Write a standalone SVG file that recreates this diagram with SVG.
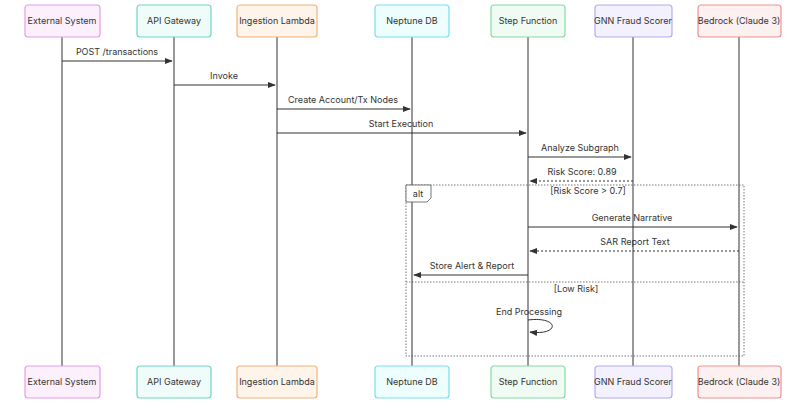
<svg xmlns="http://www.w3.org/2000/svg" width="806" height="419" viewBox="0 0 806 419">
<style>
text{font-family:Inter,"Noto Sans",sans-serif;font-size:9px;fill:#333;text-anchor:middle}
.life{stroke:#333;stroke-width:1}
.msg{stroke:#333;stroke-width:1;fill:none}
.dash{stroke-dasharray:2,2}
.box{stroke-width:1.2;rx:3}
</style>
<defs>
<marker id="a" viewBox="0 0 10 10" refX="9" refY="5" markerWidth="8" markerHeight="8" orient="auto"><path d="M0,1L10,5L0,9z" fill="#333"/></marker>
</defs>
<rect width="806" height="419" fill="#fff"/>
<g id="lifelines">
<line class="life" x1="62" y1="37" x2="62" y2="366"/>
<line class="life" x1="174" y1="37" x2="174" y2="366"/>
<line class="life" x1="277" y1="37" x2="277" y2="366"/>
<line class="life" x1="412" y1="37" x2="412" y2="366"/>
<line class="life" x1="528" y1="37" x2="528" y2="366"/>
<line class="life" x1="633" y1="37" x2="633" y2="366"/>
<line class="life" x1="739" y1="37" x2="739" y2="366"/>
</g>
<g id="alt">
<rect x="406" y="185" width="338" height="171" fill="none" stroke="#555" stroke-width="0.8" stroke-dasharray="1.5,1.5"/>
<path d="M406,185H431V198L427,202H406z" fill="#fff" stroke="#555" stroke-width="0.8"/>
<text x="418" y="197">alt</text>
<text x="588" y="194">[Risk Score &gt; 0.7]</text>
<line x1="406" y1="282" x2="744" y2="282" stroke="#555" stroke-width="0.8" stroke-dasharray="1.5,1.5"/>
<text x="576" y="292">[Low Risk]</text>
</g>
<g id="connectors">
<line class="msg" x1="62" y1="61" x2="172" y2="61" marker-end="url(#a)"/><text x="117" y="55">POST /transactions</text>
<line class="msg" x1="174" y1="85" x2="275" y2="85" marker-end="url(#a)"/><text x="224" y="79">Invoke</text>
<line class="msg" x1="277" y1="109" x2="410" y2="109" marker-end="url(#a)"/><text x="343" y="103">Create Account/Tx Nodes</text>
<line class="msg" x1="277" y1="133" x2="526" y2="133" marker-end="url(#a)"/><text x="401" y="127">Start Execution</text>
<line class="msg" x1="528" y1="157" x2="631" y2="157" marker-end="url(#a)"/><text x="580" y="151">Analyze Subgraph</text>
<line class="msg dash" x1="633" y1="181" x2="530" y2="181" marker-end="url(#a)"/><text x="582" y="175">Risk Score: 0.89</text>
<line class="msg" x1="528" y1="227" x2="737" y2="227" marker-end="url(#a)"/><text x="632" y="221">Generate Narrative</text>
<line class="msg dash" x1="739" y1="251" x2="530" y2="251" marker-end="url(#a)"/><text x="635" y="245">SAR Report Text</text>
<line class="msg" x1="528" y1="275" x2="414" y2="275" marker-end="url(#a)"/><text x="472" y="269">Store Alert &amp; Report</text>
<path class="msg" d="M528,320C560,316 560,336 530,332" marker-end="url(#a)"/><text x="529" y="315">End Processing</text>
</g>
<g id="n-ext"><rect class="box" x="25" y="5" width="75" height="32" fill="#fdf0fd" stroke="#e39be8"/><text x="62" y="24">External System</text>
<rect class="box" x="25" y="366" width="75" height="32" fill="#fdf0fd" stroke="#e39be8"/><text x="62" y="385">External System</text></g>
<g id="n-api"><rect class="box" x="137" y="5" width="74" height="32" fill="#effcf9" stroke="#6fd6c4"/><text x="174" y="24">API Gateway</text>
<rect class="box" x="137" y="366" width="74" height="32" fill="#effcf9" stroke="#6fd6c4"/><text x="174" y="385">API Gateway</text></g>
<g id="n-ing"><rect class="box" x="237" y="5" width="80" height="32" fill="#fff4ea" stroke="#f2b27a"/><text x="277" y="24">Ingestion Lambda</text>
<rect class="box" x="237" y="366" width="80" height="32" fill="#fff4ea" stroke="#f2b27a"/><text x="277" y="385">Ingestion Lambda</text></g>
<g id="n-nep"><rect class="box" x="375" y="5" width="74" height="32" fill="#eefdfe" stroke="#78e0ea"/><text x="412" y="24">Neptune DB</text>
<rect class="box" x="375" y="366" width="74" height="32" fill="#eefdfe" stroke="#78e0ea"/><text x="412" y="385">Neptune DB</text></g>
<g id="n-step"><rect class="box" x="491" y="5" width="74" height="32" fill="#effbf3" stroke="#86d9a4"/><text x="528" y="24">Step Function</text>
<rect class="box" x="491" y="366" width="74" height="32" fill="#effbf3" stroke="#86d9a4"/><text x="528" y="385">Step Function</text></g>
<g id="n-gnn"><rect class="box" x="595" y="5" width="77" height="32" fill="#f3f1fd" stroke="#b6aaee"/><text x="633" y="24">GNN Fraud Scorer</text>
<rect class="box" x="595" y="366" width="77" height="32" fill="#f3f1fd" stroke="#b6aaee"/><text x="633" y="385">GNN Fraud Scorer</text></g>
<g id="n-bed"><rect class="box" x="698" y="5" width="83" height="32" fill="#fdf0f0" stroke="#ee9292"/><text x="739" y="24">Bedrock (Claude 3)</text>
<rect class="box" x="698" y="366" width="83" height="32" fill="#fdf0f0" stroke="#ee9292"/><text x="739" y="385">Bedrock (Claude 3)</text></g>
</svg>
